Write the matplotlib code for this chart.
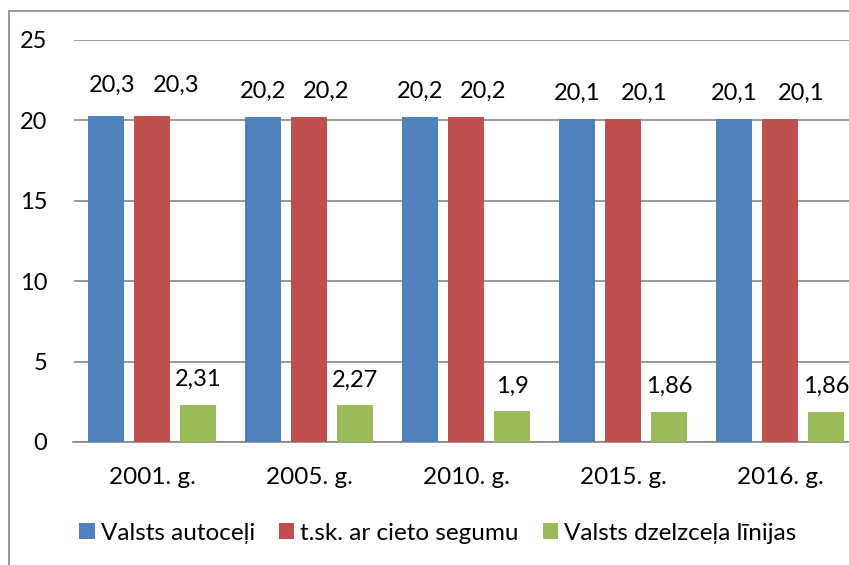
import matplotlib.pyplot as plt
from matplotlib.patches import Rectangle
import numpy as np

plt.rcParams['font.family'] = ['Lato', 'DejaVu Sans']

years = ['2001. g.', '2005. g.', '2010. g.', '2015. g.', '2016. g.']
autoceli = [20.3, 20.2, 20.2, 20.1, 20.1]
cietais = [20.3, 20.2, 20.2, 20.1, 20.1]
dzelzcels = [2.31, 2.27, 1.9, 1.86, 1.86]
series_names = ['Valsts autoceļi', 't.sk. ar cieto segumu', 'Valsts dzelzceļa līnijas']
colors = ['#4F81BD', '#C0504D', '#9BBB59']

# data label nudges (pixels), as placed by hand in the original chart
label_dx = [[6, 0, 0, 0, 0],
            [24, 17, 17, 21, 21],
            [0, 0, 0, 0, 0]]
label_dy = [[24, 19, 19, 19, 19],
            [24, 19, 19, 19, 19],
            [19, 19, 19, 19, 19]]

W, H = 849, 565
fs = 17
fig = plt.figure(figsize=(W / 100, H / 100), dpi=100)
# outer chart border (cut off at right and bottom in the reference)
fig.patches.append(Rectangle((9 / W, -0.1), 1.2, 1 - 11 / H + 0.1, transform=fig.transFigure,
                             fill=False, edgecolor='#868686', linewidth=1.2))

ax = fig.add_axes([73.5 / W, 1 - 442 / H, (858.5 - 73.5) / W, (442 - 40) / H])
x = np.arange(len(years))
offs = 0.293
bw = 0.235
for i, (vals, name) in enumerate(zip([autoceli, cietais, dzelzcels], series_names)):
    pos = x + (i - 1) * offs
    ax.bar(pos, vals, width=bw, color=colors[i], label=name, zorder=3)
    for j, (p, v) in enumerate(zip(pos, vals)):
        ax.annotate(f'{v:g}'.replace('.', ','), (p, v),
                    xytext=(label_dx[i][j], label_dy[i][j]), textcoords='offset pixels',
                    ha='center', va='baseline', fontsize=fs)

ax.set_xlim(-0.5, len(years) - 0.5)
ax.set_ylim(0, 25)
ax.set_yticks([0, 5, 10, 15, 20, 25])
ax.yaxis.grid(True, color='#868686', linewidth=1.2, zorder=0)
ax.set_xticks(x)
ax.set_xticklabels(years)
ax.tick_params(length=0, labelsize=fs)
ax.tick_params(axis='x', labelsize=17.5, pad=18)
ax.tick_params(axis='y', pad=19)
for s in ['top', 'right', 'left']:
    ax.spines[s].set_visible(False)
ax.spines['bottom'].set_color('#868686')
ax.spines['bottom'].set_linewidth(1.2)

fig.legend(loc='center', bbox_to_anchor=(438 / W, 1 - 533 / H), ncol=3, frameon=False,
           fontsize=17.5, handlelength=0.62, handleheight=0.62, handletextpad=0.25, columnspacing=1.0)

fig.savefig('out.png', dpi=100)
